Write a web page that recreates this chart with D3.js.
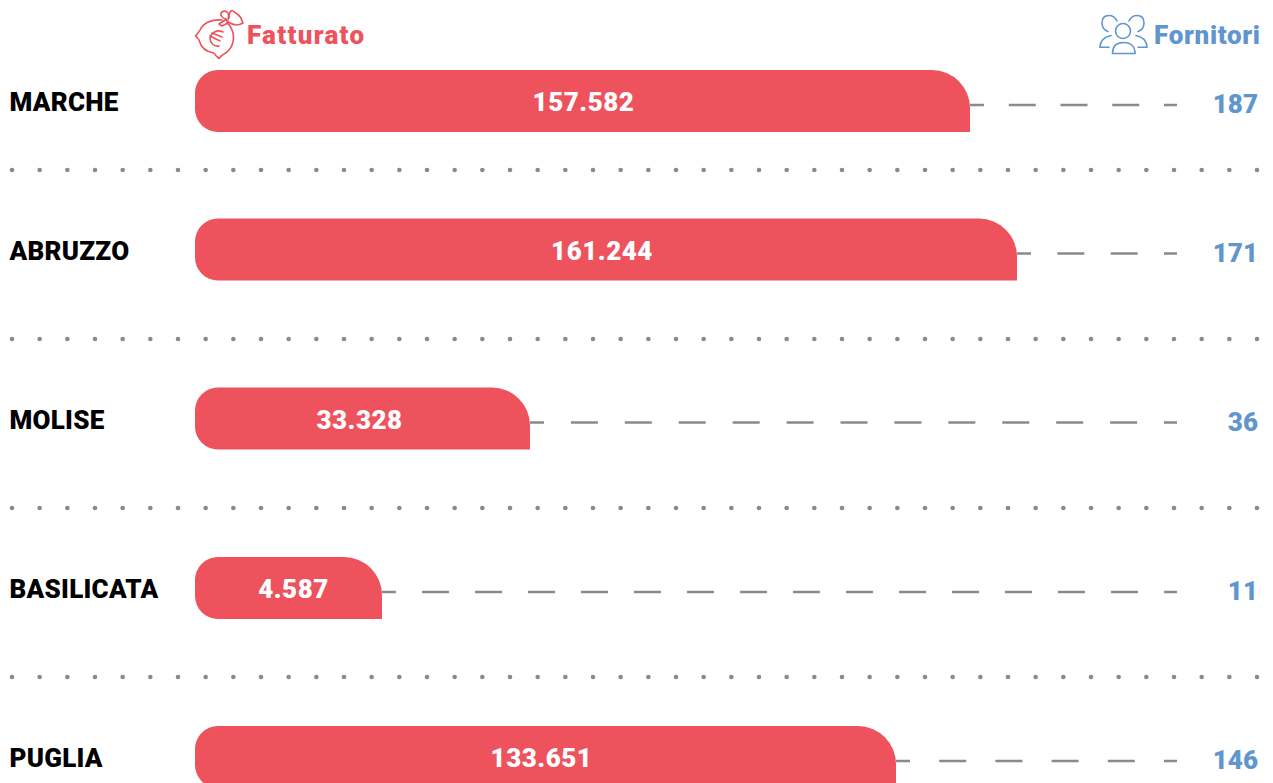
<!DOCTYPE html>
<html>
<head>
<meta charset="utf-8">
<script src="https://cdn.jsdelivr.net/npm/d3@7"></script>
<style>
    html, body { margin: 0; padding: 0; background: #fff; overflow: hidden; }
    svg { display: block; }
    text { font-family: Roboto, sans-serif; font-weight: 900; }
</style>
</head>
<body>
<div id="chart"></div>
<script>
    // values
    const regions = ['MARCHE', 'ABRUZZO', 'MOLISE', 'BASILICATA', 'PUGLIA'];
    const fatturato = [157582, 161244, 33328, 4587, 133651];
    const fornitori = [187, 171, 36, 11, 146];

    const width = 1273, height = 783;
    const red = '#ed525d', blue = '#6096cd', grey = '#8a8a8a';
    const barH = 62, barLeft = 195, lineEnd = 1177;

    const svg = d3.select('#chart').append('svg')
        .attr('width', width)
        .attr('height', height);

    // bars in the original are not strictly proportional, so the scale has several stops
    const stops = [4587, 33328, 133651, 157582, 161244];
    const x = d3.scaleLinear()
        .domain(stops)
        .range([187, 335, 701, 775, 822]);

    // the value labels are not quite centred on the bars either
    const labelX = d3.scaleLinear()
        .domain(stops)
        .range([293.5, 359.5, 541.5, 583.5, 602]);

    const y = d3.scaleOrdinal()
        .domain(regions)
        .range([70, 218.5, 387.5, 557, 726]);

    const fmt = d3.formatLocale({ decimal: ',', thousands: '.', grouping: [3], currency: ['', '€'] }).format(',d');

    function barPath(w) {
        const rl = 23, rr = 38;
        const p = d3.path();
        p.moveTo(rl, 0);
        p.lineTo(w - rr, 0);
        p.arcTo(w, 0, w, rr, rr);
        p.lineTo(w, barH);
        p.lineTo(rl, barH);
        p.arcTo(0, barH, 0, barH - rl, rl);
        p.lineTo(0, rl);
        p.arcTo(0, 0, rl, 0, rl);
        p.closePath();
        return p.toString();
    }

    // dotted separators
    const sepY = [170, 339, 508, 677];
    const dotX = d3.range(46);
    const dotScale = d3.scaleLinear().domain([0, 45]).range([12, 1257]);
    svg.selectAll('.sep')
        .data(sepY)
        .enter().append('g')
        .attr('class', 'sep')
        .attr('transform', d => 'translate(0,' + d + ')')
        .selectAll('circle')
        .data(dotX)
        .enter().append('circle')
        .attr('cx', d => dotScale(d))
        .attr('r', 2.3)
        .attr('fill', grey);

    const row = svg.selectAll('.row')
        .data(regions.map((r, i) => ({ region: r, value: fatturato[i], count: fornitori[i] })))
        .enter().append('g')
        .attr('class', 'row')
        .attr('transform', d => 'translate(0,' + y(d.region) + ')');

    // dashed line: half dash at each end, period stretched to fit
    row.append('line')
        .attr('x1', d => barLeft + x(d.value))
        .attr('x2', lineEnd)
        .attr('y1', 35)
        .attr('y2', 35)
        .attr('stroke', grey)
        .attr('stroke-width', 2.4)
        .attr('stroke-dasharray', d => {
            const len = lineEnd - barLeft - x(d.value);
            const period = len / Math.floor(len / 51);
            return '27 ' + (period - 27);
        })
        .attr('stroke-dashoffset', 13);

    row.append('path')
        .attr('transform', 'translate(' + barLeft + ',0)')
        .attr('d', d => barPath(x(d.value)))
        .attr('fill', red);

    row.append('text')
        .attr('x', 9.5)
        .attr('y', 41)
        .attr('font-size', 26)
        .attr('letter-spacing', 0.25)
        .attr('fill', '#000')
        .text(d => d.region);

    row.append('text')
        .attr('x', d => labelX(d.value))
        .attr('y', 41)
        .attr('text-anchor', 'middle')
        .attr('font-size', 26)
        .attr('letter-spacing', 0.5)
        .attr('fill', '#fff')
        .text(d => fmt(d.value));

    row.append('text')
        .attr('x', 1258)
        .attr('y', 43)
        .attr('text-anchor', 'end')
        .attr('font-size', 26)
        .attr('fill', blue)
        .text(d => d.count);

    // headers
    svg.append('text').attr('x', 247).attr('y', 44).attr('font-size', 26).attr('letter-spacing', 1.3).attr('fill', red).text('Fatturato');
    svg.append('text').attr('x', 1154).attr('y', 44).attr('font-size', 26).attr('letter-spacing', 0.7).attr('fill', blue).text('Fornitori');

    // money bag icon
    const bag = svg.append('g')
        .attr('fill', 'none')
        .attr('stroke', red)
        .attr('stroke-width', 1.6)
        .attr('stroke-linejoin', 'round')
        .attr('stroke-linecap', 'round');
    bag.append('path').attr('d', 'M222 20 C212 19 203 23 200 30 C199 32 197 34 195.500 36 C197 37 198 38 199 40 C201 48 207 52 214 53 C215 55 217 57 219 58.500 C220 57 222 55 224 54 C231 50 235 42 233 33 C232 29 230 25 227 23');
    bag.append('path').attr('d', 'M219 24 L226 19.500 L228 23 L222 26 Z');
    bag.append('path').attr('d', 'M226 19 C222 18 220 15 221 13 C223 10 227 11 228 13 C229 15 229 17 228 20');
    bag.append('path').attr('d', 'M229 18 C229 14 230 11 232 10.500 C234 11 235 13 237 14 C239 15 241 17 243 23 C241 24 239 25 237 25 C234 25 231 24 228 22');
    bag.append('path').attr('d', 'M223 32 C217 29 211 33 210 38 C210 43 214 47 219 46');
    bag.append('path').attr('d', 'M210 36 L220 41 M212 33 L222 37');

    // people icon
    const people = svg.append('g')
        .attr('fill', 'none')
        .attr('stroke', blue)
        .attr('stroke-width', 1.6)
        .attr('stroke-linecap', 'round');
    people.append('circle').attr('cx', 1123).attr('cy', 31).attr('r', 7.5);
    people.append('path').attr('d', 'M1112.500 53.500 C1112.500 46 1117 42.500 1123.500 42.500 C1130 42.500 1135 46 1135 53.500 Z');
    people.append('path').attr('d', 'M1117 21 C1115 17 1112 15.500 1109 15.500 C1104 15.500 1102 19 1102 23 C1102 27 1104 30 1108 31.500');
    people.append('path').attr('d', 'M1129 21 C1131 17 1134 15.500 1137 15.500 C1142 15.500 1144 19 1144 23 C1144 27 1142 30 1138 31.500');
    people.append('path').attr('d', 'M1109 47.300 L1100 47.300 C1100 41 1104 37 1111 35.500');
    people.append('path').attr('d', 'M1138 47.300 L1147 47.300 C1147 41 1143 37 1136 35.500');
</script>
</body>
</html>
